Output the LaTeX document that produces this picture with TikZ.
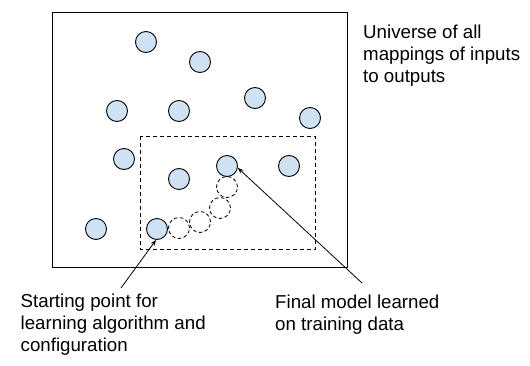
\documentclass[tikz,border=0pt]{standalone}
\usepackage{fontspec}
\setmainfont{Liberation Sans}
\usepackage{xcolor}
\usetikzlibrary{arrows.meta}

\definecolor{cellblue}{HTML}{CFE2F3}

\tikzset{
  model/.style={circle, draw=black, fill=cellblue, line width=0.9pt, minimum size=21pt, inner sep=0pt},
  path step/.style={circle, draw=black, dash pattern=on 3.5pt off 2.5pt, line width=0.8pt, minimum size=21pt, inner sep=0pt},
  note/.style={anchor=north west, align=left, inner sep=0pt, font=\fontsize{18.7}{22}\selectfont},
  pointer/.style={line width=0.8pt, -{Stealth[length=6pt,width=4.5pt]}}
}

\begin{document}
\begin{tikzpicture}[x=1pt,y=-1pt]
\useasboundingbox (0,0) rectangle (530,366);

% universe box:
\draw[line width=1pt] (52.5,12.5) rectangle (347.5,267);
\node[note] (universe) at (363,24.5) {Universe of all\\mappings of inputs\\to outputs};

% training region:
\draw[line width=0.8pt, dash pattern=on 4pt off 3pt] (140,136) rectangle (315,249.5);

% mappings:
\node[model] (m1) at (146,42) {};
\node[model] (m2) at (200,62) {};
\node[model] (m3) at (255,98) {};
\node[model] (m4) at (117,111) {};
\node[model] (m5) at (179,111) {};
\node[model] (m6) at (310,118) {};
\node[model] (m7) at (124,159) {};
\node[model] (m8) at (179,179) {};
\node[model] (final) at (227,166) {};
\node[model] (m9) at (289,166) {};
\node[model] (m10) at (96,229) {};
\node[model] (start) at (157,229) {};

% search path:
\node[path step] (p1) at (179,228) {};
\node[path step] (p2) at (200,222) {};
\node[path step] (p3) at (220,208) {};
\node[path step] (p4) at (227,187) {};

% labels:
\node[note] (startlabel) at (20.5,293.5) {Starting point for\\learning algorithm and\\configuration};
\node[note] (finallabel) at (275,294.5) {Final model learned\\on training data};

\coordinate (starttail) at (121,288);
\coordinate (finaltail) at (362,283);
\draw[pointer] (starttail) -- (start.-95);
\draw[pointer] (finaltail) -- (final.-10);

\end{tikzpicture}
\end{document}
